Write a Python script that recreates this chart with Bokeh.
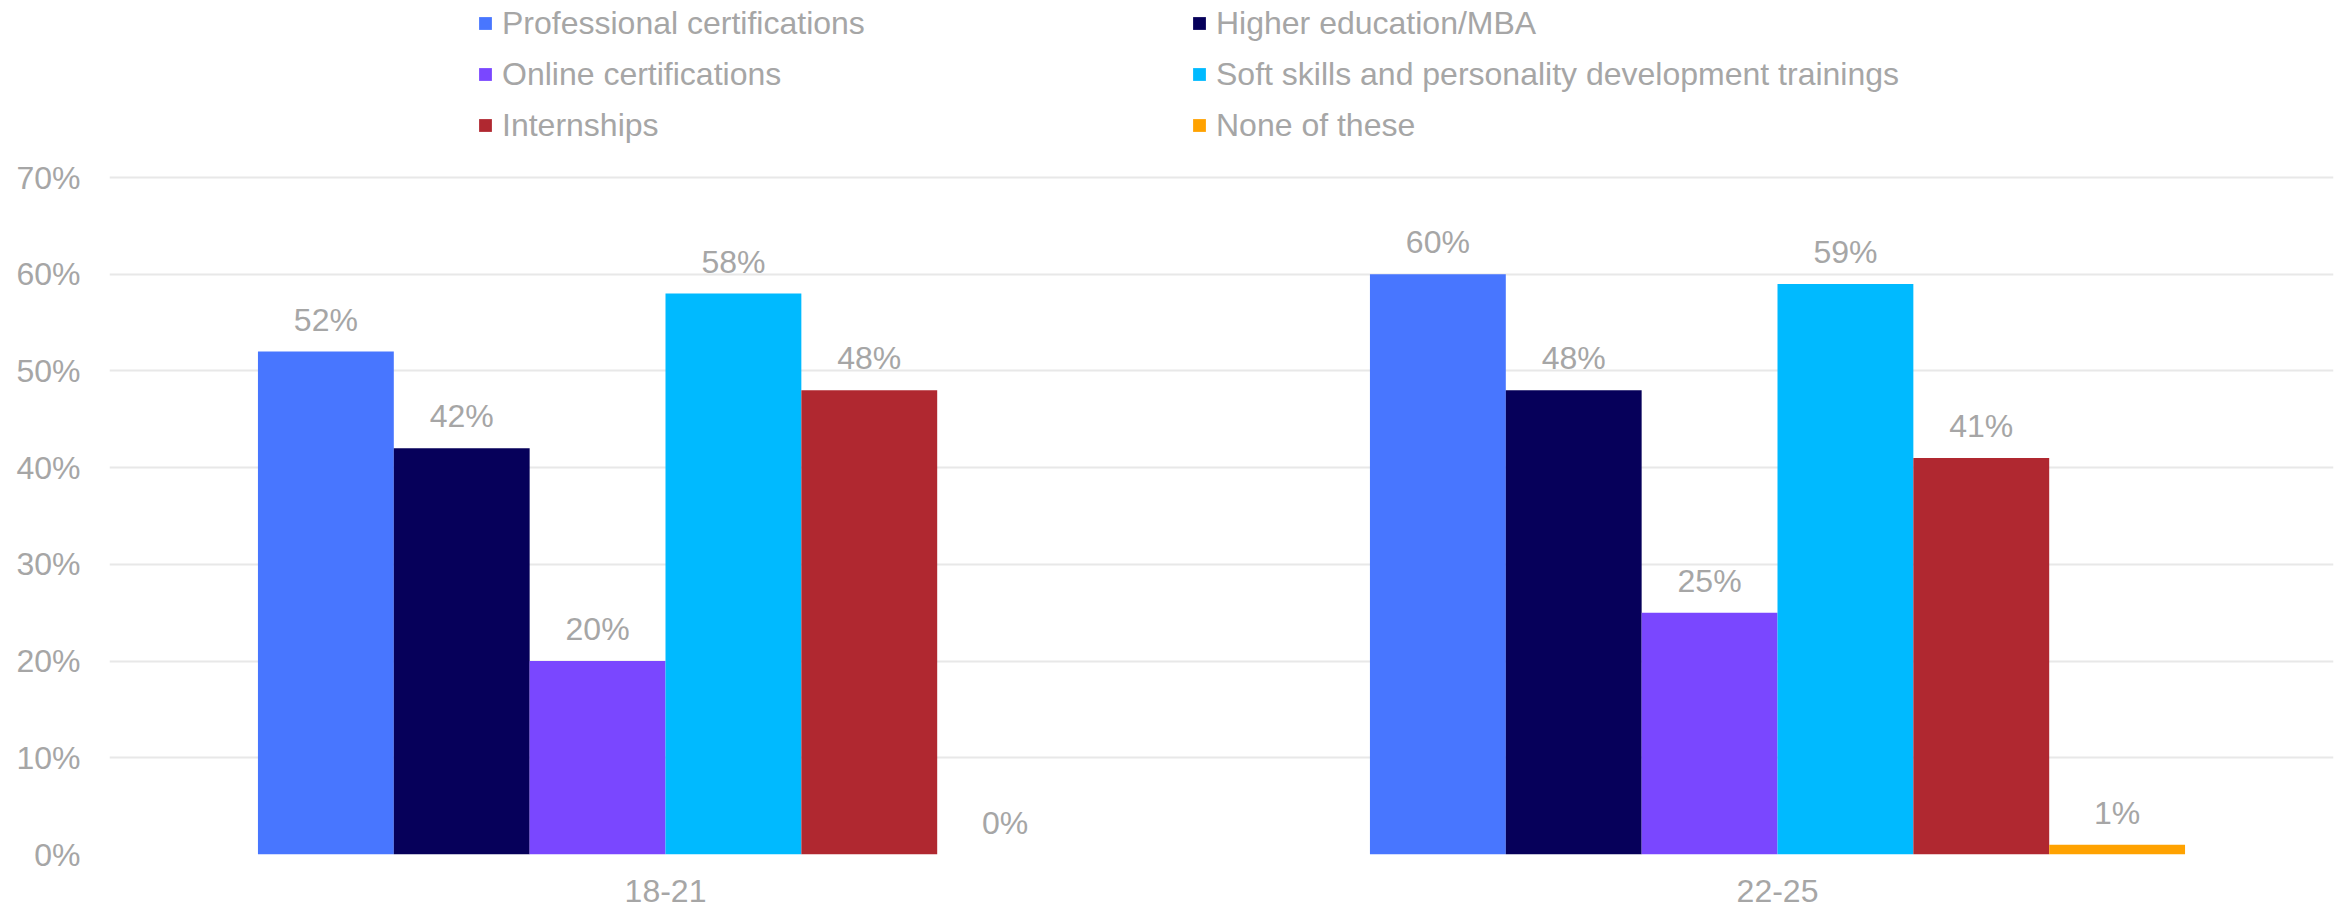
from bokeh.plotting import figure
from bokeh.models import ColumnDataSource, FixedTicker, Legend, LegendItem, NumeralTickFormatter, Range1d
from bokeh.transform import dodge
from bokeh.core.properties import value
from bokeh.embed import file_html
from bokeh.resources import INLINE

age_groups = ["18-21", "22-25"]
series_names = [
    "Professional certifications",
    "Higher education/MBA",
    "Online certifications",
    "Soft skills and personality development trainings",
    "Internships",
    "None of these",
]
professional = [0.52, 0.60]
higher_ed = [0.42, 0.48]
online = [0.20, 0.25]
soft_skills = [0.58, 0.59]
internships = [0.48, 0.41]
none_of_these = [0.00, 0.01]
y_ticks = [0, 0.1, 0.2, 0.3, 0.4, 0.5, 0.6, 0.7]

series_values = [professional, higher_ed, online, soft_skills, internships, none_of_these]
colors = ["#4876FF", "#06005A", "#7A47FF", "#00BAFF", "#B02830", "#FFA200"]

FONT = "Liberation Sans"
GRAY = "#A6A6A6"
FS = "32px"

W, H = 2336, 911
frame_h = 854
px_per_10 = (854 - 177) / 7.0
y_top = frame_h / px_per_10 * 0.1

p = figure(x_range=age_groups, width=W, height=H, output_backend="svg",
           toolbar_location=None, min_border_left=109, min_border_right=3,
           min_border_top=0, min_border_bottom=H - frame_h)
p.y_range = Range1d(0, y_top)
p.outline_line_color = None
p.background_fill_color = "white"
p.border_fill_color = "white"

group_w = 0.733
bw = group_w / 6
renderers = []
for i, (name, vals, col) in enumerate(zip(series_names, series_values, colors)):
    src = ColumnDataSource(dict(x=age_groups, top=vals,
                                lbl=["{:.0f}%".format(v * 100) for v in vals]))
    off = (i - 2.5) * bw
    r = p.vbar(x=dodge("x", off, range=p.x_range), top="top", width=bw, source=src,
               fill_color=col, line_color=None)
    p.text(x=dodge("x", off, range=p.x_range), y="top", text="lbl", source=src,
           text_align="center", text_baseline="alphabetic", y_offset=-32,
           text_font=value(FONT), text_font_size=FS, text_color=GRAY)
    renderers.append(r)

p.yaxis.ticker = FixedTicker(ticks=y_ticks)
p.yaxis.formatter = NumeralTickFormatter(format="0%")
p.yaxis.axis_line_color = None
p.yaxis.major_tick_line_color = None
p.yaxis.minor_tick_line_color = None
p.yaxis.major_tick_out = 0
p.yaxis.major_label_standoff = 29
p.yaxis.major_label_text_font = FONT
p.yaxis.major_label_text_font_size = FS
p.yaxis.major_label_text_color = GRAY

p.xaxis.axis_line_color = None
p.xaxis.major_tick_line_color = None
p.xaxis.major_tick_out = 0
p.xaxis.major_label_standoff = 25
p.xaxis.major_label_text_font = FONT
p.xaxis.major_label_text_font_size = FS
p.xaxis.major_label_text_color = GRAY

p.xgrid.grid_line_color = None
p.ygrid.grid_line_color = "#E8E8E8"
p.ygrid.grid_line_width = 2

def make_legend(idxs, vx):
    items = [LegendItem(label=series_names[k], renderers=[renderers[k]]) for k in idxs]
    lg = Legend(items=items, location=(vx, frame_h - 145), orientation="vertical",
                glyph_width=16, glyph_height=16, label_standoff=9,
                label_height=40, spacing=11, padding=0, margin=0,
                border_line_color=None, background_fill_alpha=0,
                label_text_font=FONT, label_text_font_size=FS, label_text_color=GRAY)
    return lg

p.add_layout(make_legend([0, 2, 4], 368))
p.add_layout(make_legend([1, 3, 5], 1082))

open("out.html", "w").write(file_html(p, INLINE))
